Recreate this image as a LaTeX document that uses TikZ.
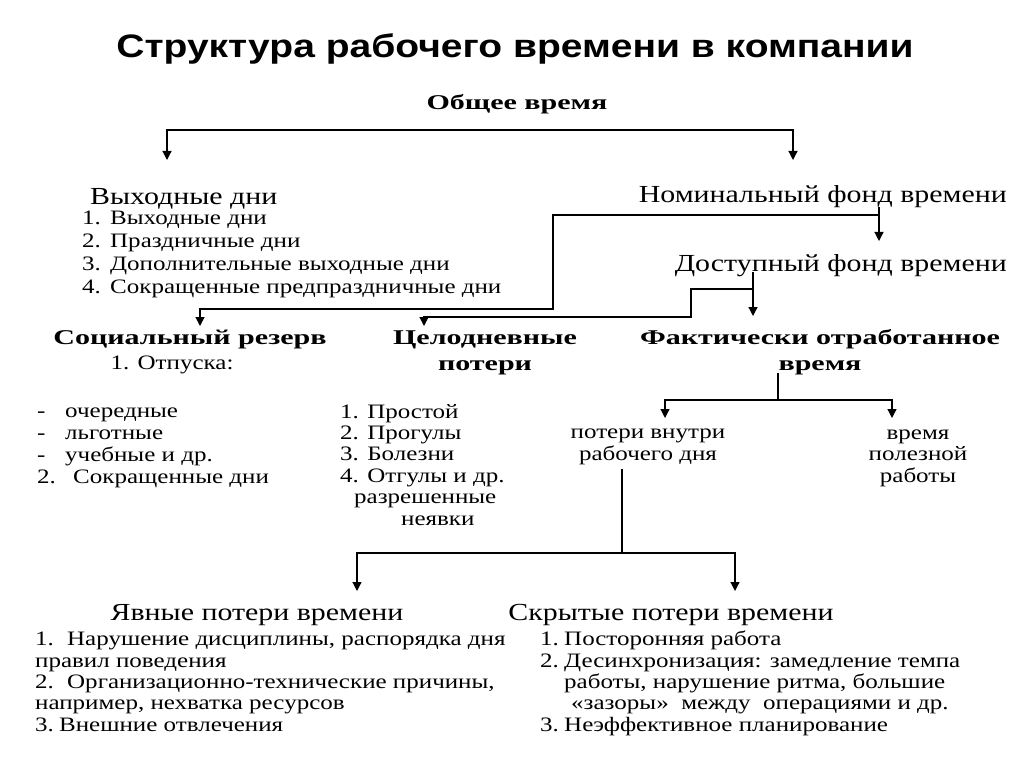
\documentclass[tikz,border=0pt]{standalone}
\usepackage{fontspec}
\setmainfont{Liberation Serif}[FakeStretch=1.22]
\newfontfamily\boldserif{Liberation Serif}[FakeStretch=1.43]
\newfontfamily\titlefont{Liberation Sans}[FakeStretch=1.2]
\usetikzlibrary{arrows.meta}

\begin{document}
\begin{tikzpicture}[x=1pt,y=-1pt]
    \tikzstyle{every node}+=[inner sep=0pt]
    \tikzstyle{arr}=[line width=1.2pt,-{Triangle[length=9pt,width=9pt]}]
    \tikzstyle{arrs}=[line width=1.2pt,{Triangle[length=9pt,width=9pt]}-{Triangle[length=9pt,width=9pt]}]
    \tikzstyle{line}=[line width=1.2pt]
    \tikzstyle{head}=[font=\fontsize{24.5}{26}\selectfont,anchor=base]
    \tikzstyle{bhead}=[font=\boldserif\bfseries\fontsize{21}{26}\selectfont,align=center,anchor=base]
    \tikzstyle{txt}=[font=\fontsize{20.5}{21.5}\selectfont,align=left,anchor=base west]
    \useasboundingbox[fill=white] (0,0) rectangle (1024,767);
    \node [anchor=base] (title) at (515,58) {\titlefont\bfseries\fontsize{32.5}{34}\selectfont Структура рабочего времени в компании};
    \node [bhead] (total) at (517,110) {Общее время};
    \node [head,anchor=base west] (wd) at (90,205) {Выходные дни};
    \node [txt,font=\fontsize{20.5}{22.7}\selectfont] (wdlist) at (82,293) {\makebox[28pt][l]{1.}Выходные дни\\
        \makebox[28pt][l]{2.}Праздничные дни\\
        \makebox[28pt][l]{3.}Дополнительные выходные дни\\
        \makebox[28pt][l]{4.}Сокращенные предпраздничные дни};
    \node [head,anchor=base east] (nom) at (1007,203) {Номинальный фонд времени};
    \node [head,anchor=base east] (avail) at (1007,271) {Доступный фонд времени};
    \node [bhead] (soc) at (190,344) {Социальный резерв};
    \node [txt,anchor=base] (otp) at (172,369) {1. Отпуска:};
    \node [txt,font=\fontsize{20.5}{21.7}\selectfont] (soclist) at (37,483) {\makebox[28pt][l]{-}очередные\\
        \makebox[28pt][l]{-}льготные\\
        \makebox[28pt][l]{-}учебные и др.\\
        \makebox[36pt][l]{2.}Сокращенные дни};
    \node [bhead] (whole) at (485,370) {Целодневные\\потери};
    \node [bhead] (fact) at (820,370) {Фактически отработанное\\время};
    \node [txt,font=\fontsize{20.5}{21.4}\selectfont] (wholelist) at (340,525) {1. Простой\\
        2. Прогулы\\
        3. Болезни\\
        4. Отгулы и др.\\
        \hspace*{14pt}разрешенные\\
        \hspace*{61pt}неявки};
    \node [txt,align=center,anchor=base] (inday) at (648,460) {потери внутри\\рабочего дня};
    \node [txt,align=center,anchor=base] (useful) at (918,482) {время\\полезной\\работы};
    \node [head] (expl) at (257,620) {Явные потери времени};
    \node [txt,font=\fontsize{20.5}{21.3}\selectfont] (expllist) at (35,731) {\makebox[32pt][l]{1.}Нарушение дисциплины, распорядка дня\\
        правил поведения\\
        \makebox[32pt][l]{2.}Организационно-технические причины,\\
        например, нехватка ресурсов\\
        \makebox[24pt][l]{3.}Внешние отвлечения};
    \node [head] (hid) at (671,620) {Скрытые потери времени};
    \node [txt,font=\fontsize{20.5}{21.3}\selectfont] (hidlist) at (540,731) {\makebox[24pt][l]{1.}Посторонняя работа\\
        \makebox[24pt][l]{2.}Десинхронизация: замедление темпа\\
        \hspace*{24pt}работы, нарушение ритма, большие\\
        \hspace*{31pt}«зазоры»\ \ между\ \ операциями и др.\\
        \makebox[24pt][l]{3.}Неэффективное планирование};
    \coordinate (t1) at (167,130);
    \coordinate (t2) at (793,130);
    \coordinate (a1) at (167,160);
    \coordinate (a2) at (793,160);
    \draw [arrs] (a1) -- (t1) -- (t2) -- (a2);
    \coordinate (n0) at (879,207);
    \coordinate (n1) at (879,215);
    \coordinate (n2) at (553,309);
    \coordinate (a3) at (879,241);
    \coordinate (a4) at (200,326);
    \draw [arr] (n0) -- (a3);
    \draw [arr] (n1) -| (n2) -| (a4);
    \coordinate (d0) at (753,272);
    \coordinate (d1) at (753,289);
    \coordinate (d2) at (691,317);
    \coordinate (a5) at (753,316);
    \coordinate (a6) at (424,326);
    \draw [arr] (d0) -- (a5);
    \draw [arr] (d1) -| (d2) -| (a6);
    \coordinate (f0) at (778,373);
    \coordinate (f1) at (778,400);
    \coordinate (a7) at (665,418);
    \coordinate (a8) at (892,418);
    \draw [line] (f0) -- (f1);
    \draw [arrs] (a7) |- (f1) -| (a8);
    \coordinate (p0) at (622,469);
    \coordinate (p1) at (622,553);
    \coordinate (a9) at (357,591);
    \coordinate (a10) at (735,591);
    \draw [line] (p0) -- (p1);
    \draw [arrs] (a9) |- (p1) -| (a10);
\end{tikzpicture}
\end{document}
